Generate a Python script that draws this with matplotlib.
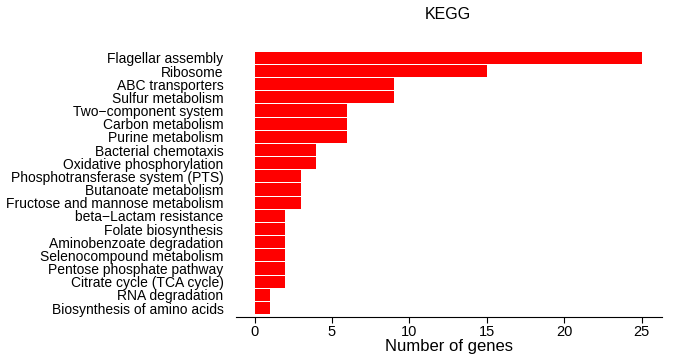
import matplotlib
matplotlib.use("Agg")
import matplotlib.pyplot as plt

categories = [
    "Flagellar assembly", "Ribosome", "ABC transporters", "Sulfur metabolism",
    "Two\u2212component system", "Carbon metabolism", "Purine metabolism",
    "Bacterial chemotaxis", "Oxidative phosphorylation",
    "Phosphotransferase system (PTS)", "Butanoate metabolism",
    "Fructose and mannose metabolism", "beta\u2212Lactam resistance",
    "Folate biosynthesis", "Aminobenzoate degradation",
    "Selenocompound metabolism", "Pentose phosphate pathway",
    "Citrate cycle (TCA cycle)", "RNA degradation",
    "Biosynthesis of amino acids",
]
values = [25, 15, 9, 9, 6, 6, 6, 4, 4, 3, 3, 3, 2, 2, 2, 2, 2, 2, 1, 1]
xticks = [0, 5, 10, 15, 20, 25]

plt.rcParams['font.family'] = ['Liberation Sans', 'DejaVu Sans']

fig = plt.figure(figsize=(6.78, 3.56), dpi=100)
ax = fig.add_axes([0.348, 0.1096, 0.628, 0.75])

pos = list(range(len(categories)))
ax.barh(pos, values, height=0.92, color='#ff0000', edgecolor='none')
ax.set_ylim(19.68, -0.6)
ax.set_xlim(-1.2, 26.3)
ax.set_yticks(pos)
ax.set_yticklabels(categories, fontsize=10)
ax.tick_params(axis='y', length=0, pad=9)
ax.set_xticks(xticks)
ax.set_xticklabels([str(t) for t in xticks], fontsize=10.5)
ax.tick_params(axis='x', length=4, width=0.8, pad=2)
for s in ['top', 'right', 'left']:
    ax.spines[s].set_visible(False)
ax.spines['bottom'].set_linewidth(0.8)
ax.set_xlabel("Number of genes", fontsize=12, labelpad=0)
fig.text(0.661, 0.958, "KEGG", ha='center', va='center', fontsize=11.5)

fig.savefig("out.png", dpi=100)
